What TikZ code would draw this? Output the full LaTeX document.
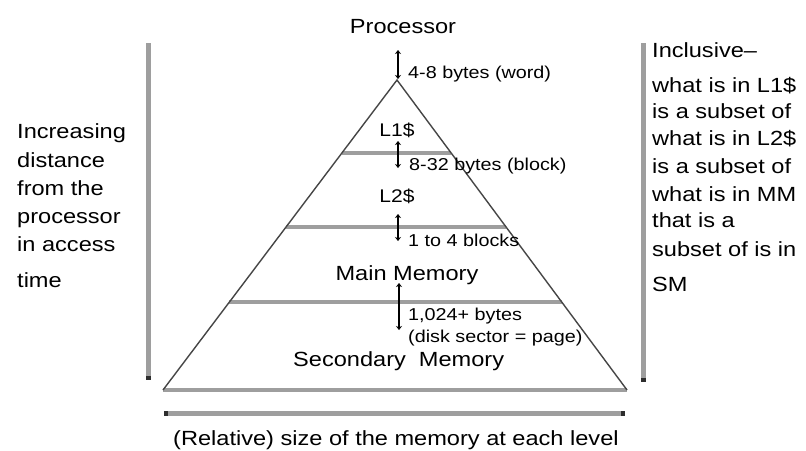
\documentclass[tikz,border=0pt]{standalone}
\usepackage{fontspec}
\setmainfont{Liberation Sans}[FakeStretch=1.15]
\usetikzlibrary{arrows.meta,calc}
\definecolor{levelgray}{RGB}{158,158,158}
\definecolor{edgegray}{RGB}{70,70,70}
\definecolor{tipgray}{RGB}{45,45,45}
\newcommand{\bigtxt}{\fontsize{20.5}{24}\selectfont}
\newcommand{\midtxt}{\fontsize{18.3}{22}\selectfont}
\newcommand{\smalltxt}{\fontsize{17.2}{21}\selectfont}
\tikzset{
  lbl/.style={inner sep=0pt, font=\bigtxt, text=black},
  lblmid/.style={inner sep=0pt, font=\midtxt, text=black},
  lblsmall/.style={inner sep=0pt, font=\smalltxt, text=black},
  edge/.style={draw=edgegray, line width=1.4pt},
  level/.style={draw=levelgray, line width=4pt},
  xfer/.style={draw=black, line width=1.8pt, {Stealth[length=4pt,width=6pt]}-{Stealth[length=4pt,width=6pt]}},
  scale bar/.style={draw=levelgray, line width=5pt},
}
\begin{document}
\begin{tikzpicture}[x=1pt,y=-1pt]
\useasboundingbox (0,0) rectangle (806,450);
\fill[white] (0,0) rectangle (806,450);

% pyramid corners
\coordinate (apex) at (397,80);
\coordinate (bl) at (163,390);
\coordinate (br) at (627,390);

% level boundaries
\coordinate (l1a) at ($(apex)!0.2355!(bl)$);
\coordinate (l1b) at ($(apex)!0.2355!(br)$);
\coordinate (l2a) at ($(apex)!0.474!(bl)$);
\coordinate (l2b) at ($(apex)!0.474!(br)$);
\coordinate (mma) at ($(apex)!0.716!(bl)$);
\coordinate (mmb) at ($(apex)!0.716!(br)$);

\draw[level] (l1a) -- (l1b);
\draw[level] (l2a) -- (l2b);
\draw[level] (mma) -- (mmb);
\draw[level] (bl) -- (br);
\draw[edge] (bl) -- (apex) -- (br);

% transfer arrows between levels
\coordinate (t0a) at (398,50);  \coordinate (t0b) at (398,79);
\coordinate (t1a) at (398,141); \coordinate (t1b) at (398,168);
\coordinate (t2a) at (398,214); \coordinate (t2b) at (398,241);
\coordinate (t3a) at (399,283); \coordinate (t3b) at (399,330);
\draw[xfer] (t0a) -- (t0b);
\draw[xfer] (t1a) -- (t1b);
\draw[xfer] (t2a) -- (t2b);
\draw[xfer] (t3a) -- (t3b);

% side and bottom scales
\coordinate (lt) at (148,43);  \coordinate (lb) at (148,380);
\coordinate (rt) at (643,43);  \coordinate (rb) at (643,382);
\coordinate (sl) at (164,413); \coordinate (sr) at (625,413);
\draw[scale bar, -{Square[length=4pt,width=5pt,color=tipgray]}] (lt) -- (lb);
\draw[scale bar, -{Square[length=4pt,width=5pt,color=tipgray]}] (rt) -- (rb);
\draw[scale bar, {Square[length=4pt,width=5pt,color=tipgray]}-{Square[length=4pt,width=5pt,color=tipgray]}] (sl) -- (sr);

% level names
\node[lbl, anchor=base] (proc) at (403,33) {Processor};
\node[lblmid, anchor=base] (l1) at (397,136) {L1\$};
\node[lblmid, anchor=base] (l2) at (397,202) {L2\$};
\node[lbl, anchor=base] (mm) at (407,280) {Main Memory};
\node[lbl, anchor=base west] (sm) at (293,366) {Secondary\ \ Memory};

% transfer sizes
\node[lblsmall, anchor=base west] (w0) at (408,78) {4-8 bytes (word)};
\node[lblsmall, anchor=base west] (w1) at (409,170) {8-32 bytes (block)};
\node[lblsmall, anchor=base west] (w2) at (408,246) {1 to 4 blocks};
\node[lblsmall, anchor=base west] (w3) at (408,320) {1,024+ bytes};
\node[lblsmall, anchor=base west] (w4) at (408,342) {(disk sector = page)};

% left caption
\node[lbl, anchor=base west] (a1) at (17,138) {Increasing};
\node[lbl, anchor=base west] (a2) at (17,167) {distance};
\node[lbl, anchor=base west] (a3) at (17,195) {from the};
\node[lbl, anchor=base west] (a4) at (17,223) {processor};
\node[lbl, anchor=base west] (a5) at (17,251) {in access};
\node[lbl, anchor=base west] (a6) at (17,287) {time};

% right caption
\node[lbl, anchor=base west] (b1) at (652,57) {Inclusive--};
\node[lbl, anchor=base west] (b2) at (652,92) {what is in L1\$};
\node[lbl, anchor=base west] (b3) at (652,118) {is a subset of};
\node[lbl, anchor=base west] (b4) at (652,145) {what is in L2\$};
\node[lbl, anchor=base west] (b5) at (652,173) {is a subset of};
\node[lbl, anchor=base west] (b6) at (652,201) {what is in MM};
\node[lbl, anchor=base west] (b7) at (652,227) {that is a};
\node[lbl, anchor=base west] (b8) at (652,256) {subset of is in};
\node[lbl, anchor=base west] (b9) at (652,291) {SM};

% bottom caption
\node[lbl, anchor=base west] (cap) at (173,445) {(Relative) size of the memory at each level};
\end{tikzpicture}
\end{document}
